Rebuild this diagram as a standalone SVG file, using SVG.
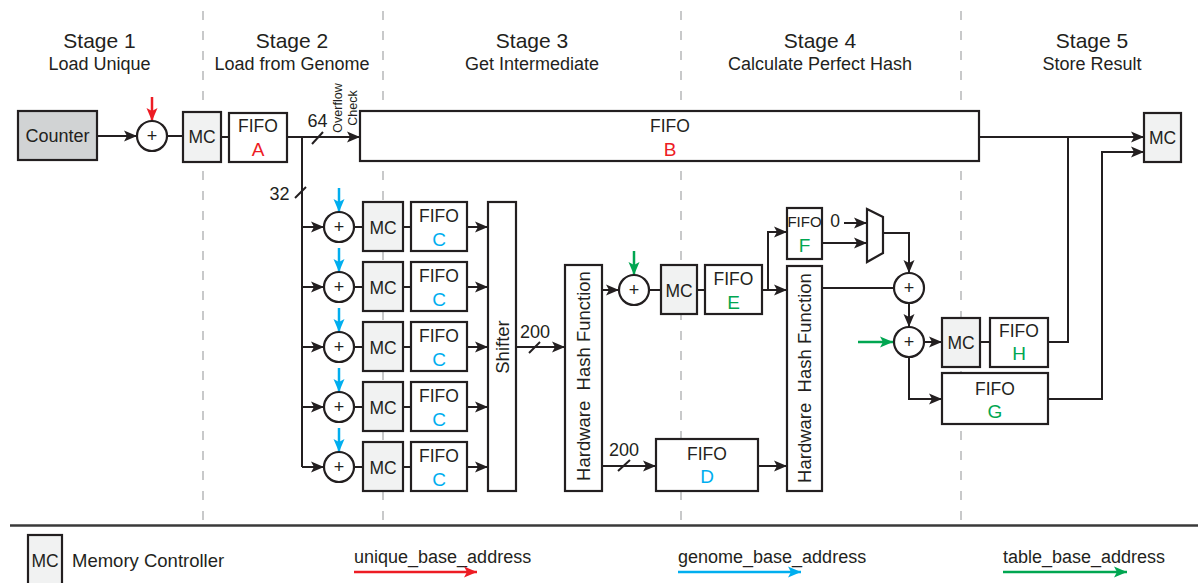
<svg xmlns="http://www.w3.org/2000/svg" width="1198" height="583" viewBox="0 0 1198 583">
<style>
.box{fill:#fff;stroke:#231f20;stroke-width:2.2}
.mc{fill:#f1f2f2;stroke:#231f20;stroke-width:2.2}
.ctr{fill:#d1d3d4;stroke:#231f20;stroke-width:2.2}
.ln{fill:none;stroke:#231f20;stroke-width:2}
.dash{fill:none;stroke:#c8c9ca;stroke-width:2;stroke-dasharray:9 11}
.t{font-family:"Liberation Sans",Arial,Helvetica,sans-serif;fill:#231f20;text-anchor:middle}
.tl{font-family:"Liberation Sans",Arial,Helvetica,sans-serif;fill:#231f20;text-anchor:start}
.h1{font-size:21px}
.h2{font-size:18px}
.f{font-size:17.5px}
.lt{font-size:19px}
.hh{font-size:18.5px}
.red{fill:#ed1c24}
.blue{fill:#00aeef}
.green{fill:#00a651}
.sr{fill:none;stroke:#ed1c24;stroke-width:2.5}
.sb{fill:none;stroke:#00aeef;stroke-width:2.5}
.sg{fill:none;stroke:#00a651;stroke-width:2.5}
</style>
<defs>
<marker id="ah" markerUnits="userSpaceOnUse" markerWidth="14" markerHeight="12" refX="13" refY="6" orient="auto" viewBox="0 0 14 12"><path d="M0,0.5 L13,6 L0,11.5 L3,6 z" fill="#231f20"/></marker>
<marker id="ahr" markerUnits="userSpaceOnUse" markerWidth="14" markerHeight="12" refX="13" refY="6" orient="auto" viewBox="0 0 14 12"><path d="M0,0.5 L13,6 L0,11.5 L3,6 z" fill="#ed1c24"/></marker>
<marker id="ahb" markerUnits="userSpaceOnUse" markerWidth="14" markerHeight="12" refX="13" refY="6" orient="auto" viewBox="0 0 14 12"><path d="M0,0.5 L13,6 L0,11.5 L3,6 z" fill="#00aeef"/></marker>
<marker id="ahg" markerUnits="userSpaceOnUse" markerWidth="14" markerHeight="12" refX="13" refY="6" orient="auto" viewBox="0 0 14 12"><path d="M0,0.5 L13,6 L0,11.5 L3,6 z" fill="#00a651"/></marker>
</defs>
<rect width="1198" height="583" fill="#fff"/>

<g id="stage-dividers">
<path class="dash" d="M203,11 V523 M383,11 V523 M681,11 V523 M961,11 V523"/>
<path d="M10,525.5 H1198" stroke="#3a3a3a" stroke-width="2.5"/>
</g>

<g id="headers">
<text class="t h1" x="99.5" y="48">Stage 1</text>
<text class="t h2" x="99.5" y="70">Load Unique</text>
<text class="t h1" x="292" y="48">Stage 2</text>
<text class="t h2" x="292" y="70">Load from Genome</text>
<text class="t h1" x="532" y="48">Stage 3</text>
<text class="t h2" x="532" y="70">Get Intermediate</text>
<text class="t h1" x="820" y="48">Stage 4</text>
<text class="t h2" x="820" y="70">Calculate Perfect Hash</text>
<text class="t h1" x="1092" y="48">Stage 5</text>
<text class="t h2" x="1092" y="70">Store Result</text>
</g>

<g id="connectors">
<path class="ln" d="M97,136 H137" marker-end="url(#ah)"/>
<path class="sr" d="M152,97 V121" marker-end="url(#ahr)"/>
<path class="ln" d="M167,136 H183"/>
<path class="ln" d="M221,137 H229"/>
<path class="ln" d="M287,137 H360" marker-end="url(#ah)"/>
<path class="ln" d="M312,144 L323,132"/>
<path class="ln" d="M302,137 V467"/>
<path class="ln" d="M295,198 L306,187"/>
<path class="ln" d="M302,227 H324" marker-end="url(#ah)"/>
<path class="ln" d="M302,287 H324" marker-end="url(#ah)"/>
<path class="ln" d="M302,347 H324" marker-end="url(#ah)"/>
<path class="ln" d="M302,407 H324" marker-end="url(#ah)"/>
<path class="ln" d="M302,467 H324" marker-end="url(#ah)"/>
<path class="sb" d="M339,188 V212" marker-end="url(#ahb)"/>
<path class="sb" d="M339,248 V272" marker-end="url(#ahb)"/>
<path class="sb" d="M339,308 V332" marker-end="url(#ahb)"/>
<path class="sb" d="M339,368 V392" marker-end="url(#ahb)"/>
<path class="sb" d="M339,428 V452" marker-end="url(#ahb)"/>
<path class="ln" d="M354,227 H363 M403,227 H411 M354,287 H363 M403,287 H411 M354,347 H363 M403,347 H411 M354,407 H363 M403,407 H411 M354,467 H363 M403,467 H411"/>
<path class="ln" d="M467,227 H488" marker-end="url(#ah)"/>
<path class="ln" d="M467,287 H488" marker-end="url(#ah)"/>
<path class="ln" d="M467,347 H488" marker-end="url(#ah)"/>
<path class="ln" d="M467,407 H488" marker-end="url(#ah)"/>
<path class="ln" d="M467,467 H488" marker-end="url(#ah)"/>
<path class="ln" d="M516,347 H565" marker-end="url(#ah)"/>
<path class="ln" d="M529,353 L540,342"/>
<path class="ln" d="M602,290 H619" marker-end="url(#ah)"/>
<path class="sg" d="M634,251 V275" marker-end="url(#ahg)"/>
<path class="ln" d="M649,290 H661 M697,290 H705"/>
<path class="ln" d="M762,290 H787" marker-end="url(#ah)"/>
<path class="ln" d="M768,290 V232 H787" marker-end="url(#ah)"/>
<path class="ln" d="M602,466 H656" marker-end="url(#ah)"/>
<path class="ln" d="M618,471 L630,460"/>
<path class="ln" d="M758,466 H787" marker-end="url(#ah)"/>
<path class="ln" d="M844,223 H867" marker-end="url(#ah)"/>
<path class="ln" d="M822,243 H867" marker-end="url(#ah)"/>
<path class="ln" d="M883,233 H909 V273" marker-end="url(#ah)"/>
<path class="ln" d="M822,288 H893"/>
<path class="ln" d="M909,303 V327" marker-end="url(#ah)"/>
<path class="sg" d="M858,342 H893" marker-end="url(#ahg)"/>
<path class="ln" d="M924,342 H942" marker-end="url(#ah)"/>
<path class="ln" d="M980,342 H990"/>
<path class="ln" d="M909,357 V399 H942" marker-end="url(#ah)"/>
<path class="ln" d="M980,137 H1144" marker-end="url(#ah)"/>
<path class="ln" d="M1048,342 H1068 V137"/>
<path class="ln" d="M1048,399 H1102 V152 H1144" marker-end="url(#ah)"/>
</g>

<g id="labels">
<text class="t h2" x="317.5" y="127">64</text>
<text class="t" font-size="12.5" transform="translate(342,108) rotate(-90)">Overflow</text>
<text class="t" font-size="12.5" transform="translate(357,108) rotate(-90)">Check</text>
<text class="t h2" x="279.5" y="200">32</text>
<text class="t h2" x="535" y="338">200</text>
<text class="t h2" x="624" y="456">200</text>
<text class="t f" x="835" y="227">0</text>
</g>

<g id="counter"><rect class="ctr" x="18" y="111" width="79" height="49"/><text class="t h2" x="57.5" y="142">Counter</text></g>
<g id="add-unique"><circle class="box" cx="152" cy="136" r="15"/><text class="t h2" x="152" y="142">+</text></g>
<g id="mc-1"><rect class="mc" x="183" y="112" width="38" height="50"/><text class="t f" x="202" y="143">MC</text></g>
<g id="fifo-a"><rect class="box" x="229" y="113" width="58" height="49"/><text class="t f" x="258" y="132">FIFO</text><text class="t lt red" x="258" y="156">A</text></g>
<g id="fifo-b"><rect class="box" x="360" y="111" width="619" height="50"/><text class="t f" x="670" y="132">FIFO</text><text class="t lt red" x="670" y="156">B</text></g>

<g id="add-c1"><circle class="box" cx="339" cy="227" r="15"/><text class="t h2" x="339" y="233">+</text></g>
<g id="mc-c1"><rect class="mc" x="363" y="202" width="40" height="49"/><text class="t f" x="383" y="234">MC</text></g>
<g id="fifo-c1"><rect class="box" x="411" y="202" width="56" height="49"/><text class="t f" x="439" y="222">FIFO</text><text class="t lt blue" x="439" y="246">C</text></g>

<g id="add-c2"><circle class="box" cx="339" cy="287" r="15"/><text class="t h2" x="339" y="293">+</text></g>
<g id="mc-c2"><rect class="mc" x="363" y="262" width="40" height="49"/><text class="t f" x="383" y="294">MC</text></g>
<g id="fifo-c2"><rect class="box" x="411" y="262" width="56" height="49"/><text class="t f" x="439" y="282">FIFO</text><text class="t lt blue" x="439" y="306">C</text></g>

<g id="add-c3"><circle class="box" cx="339" cy="347" r="15"/><text class="t h2" x="339" y="353">+</text></g>
<g id="mc-c3"><rect class="mc" x="363" y="322" width="40" height="49"/><text class="t f" x="383" y="354">MC</text></g>
<g id="fifo-c3"><rect class="box" x="411" y="322" width="56" height="49"/><text class="t f" x="439" y="342">FIFO</text><text class="t lt blue" x="439" y="366">C</text></g>

<g id="add-c4"><circle class="box" cx="339" cy="407" r="15"/><text class="t h2" x="339" y="413">+</text></g>
<g id="mc-c4"><rect class="mc" x="363" y="382" width="40" height="49"/><text class="t f" x="383" y="414">MC</text></g>
<g id="fifo-c4"><rect class="box" x="411" y="382" width="56" height="49"/><text class="t f" x="439" y="402">FIFO</text><text class="t lt blue" x="439" y="426">C</text></g>

<g id="add-c5"><circle class="box" cx="339" cy="467" r="15"/><text class="t h2" x="339" y="473">+</text></g>
<g id="mc-c5"><rect class="mc" x="363" y="442" width="40" height="49"/><text class="t f" x="383" y="474">MC</text></g>
<g id="fifo-c5"><rect class="box" x="411" y="442" width="56" height="49"/><text class="t f" x="439" y="462">FIFO</text><text class="t lt blue" x="439" y="486">C</text></g>

<g id="shifter"><rect class="box" x="488" y="202" width="28" height="289"/><text class="t hh" transform="translate(508.5,347) rotate(-90)">Shifter</text></g>
<g id="hash-1"><rect class="box" x="565" y="265" width="37" height="226"/><text class="t hh" transform="translate(590,376) rotate(-90)" xml:space="preserve">Hardware  Hash Function</text></g>
<g id="add-e"><circle class="box" cx="634" cy="290" r="15"/><text class="t h2" x="634" y="296">+</text></g>
<g id="mc-e"><rect class="mc" x="661" y="265" width="36" height="49"/><text class="t f" x="679" y="297">MC</text></g>
<g id="fifo-e"><rect class="box" x="705" y="265" width="57" height="49"/><text class="t f" x="733.5" y="285">FIFO</text><text class="t lt green" x="733.5" y="309">E</text></g>
<g id="fifo-d"><rect class="box" x="656" y="439" width="102" height="52"/><text class="t f" x="707" y="460">FIFO</text><text class="t lt blue" x="707" y="483">D</text></g>
<g id="fifo-f"><rect class="box" x="787" y="208" width="35" height="51"/><text class="t" font-size="15" x="804.5" y="227">FIFO</text><text class="t lt green" x="804.5" y="252">F</text></g>
<g id="hash-2"><rect class="box" x="787" y="266" width="35" height="225"/><text class="t hh" transform="translate(811,378) rotate(-90)" xml:space="preserve">Hardware  Hash Function</text></g>
<g id="mux"><polygon class="box" points="867,209 883,217 883,253 867,262"/></g>
<g id="add-f"><circle class="box" cx="909" cy="288" r="15"/><text class="t h2" x="909" y="294">+</text></g>
<g id="add-table"><circle class="box" cx="909" cy="342" r="15"/><text class="t h2" x="909" y="348">+</text></g>
<g id="mc-h"><rect class="mc" x="942" y="318" width="38" height="49"/><text class="t f" x="961" y="349">MC</text></g>
<g id="fifo-h"><rect class="box" x="990" y="318" width="58" height="49"/><text class="t f" x="1019" y="337">FIFO</text><text class="t lt green" x="1019" y="360">H</text></g>
<g id="fifo-g"><rect class="box" x="942" y="373" width="106" height="51"/><text class="t f" x="995" y="395">FIFO</text><text class="t lt green" x="995" y="418">G</text></g>
<g id="mc-out"><rect class="mc" x="1144" y="113" width="37" height="49"/><text class="t f" x="1162.5" y="144">MC</text></g>

<g id="legend">
<rect class="mc" x="28" y="535" width="34" height="55"/>
<text class="t f" x="45" y="567">MC</text>
<text class="tl" font-size="18.5" x="72" y="567">Memory Controller</text>
<text class="tl" font-size="18" x="354" y="563">unique_base_address</text>
<path class="sr" d="M354,572 H477" marker-end="url(#ahr)"/>
<text class="tl" font-size="18" x="678" y="563">genome_base_address</text>
<path class="sb" d="M678,572 H801" marker-end="url(#ahb)"/>
<text class="tl" font-size="18" x="1003" y="563">table_base_address</text>
<path class="sg" d="M1003,572 H1127" marker-end="url(#ahg)"/>
</g>
</svg>
